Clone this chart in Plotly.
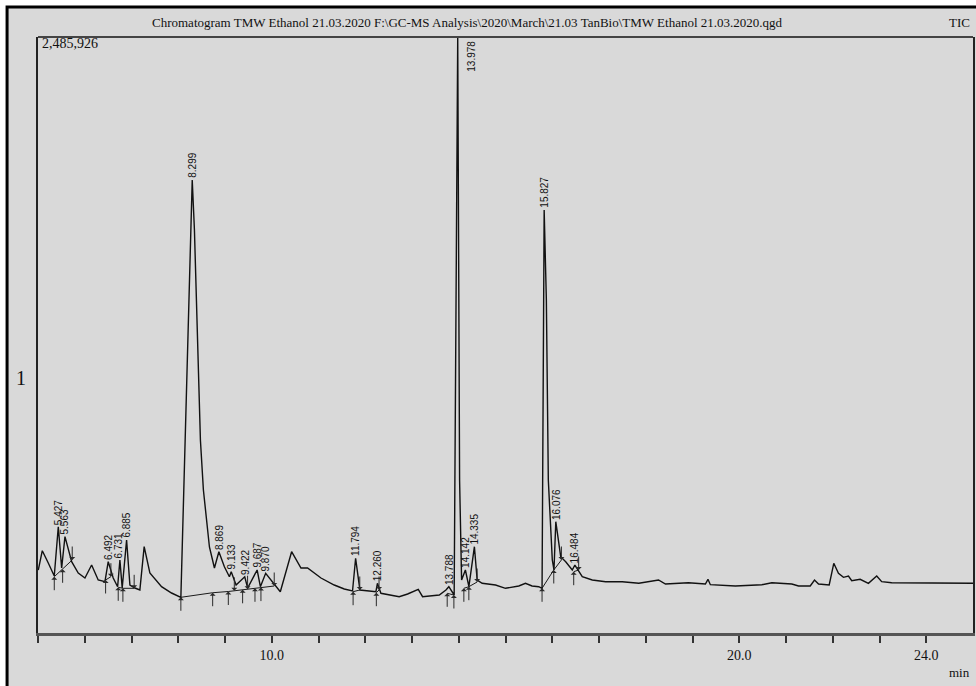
import numpy as np
import plotly.graph_objects as go

# ---------------- data ----------------
y_full_scale = 2485926

trace_t = [5.006, 5.092, 5.220, 5.348, 5.434, 5.506, 5.577, 5.720, 5.861, 6.004, 6.147, 6.288,
           6.432, 6.502, 6.609, 6.703, 6.752, 6.801, 6.895, 6.966, 7.073, 7.179, 7.271, 7.393,
           7.643, 7.857, 8.056, 8.120, 8.205, 8.299, 8.346, 8.389, 8.432, 8.474, 8.538, 8.603,
           8.667, 8.774, 8.869, 8.987, 9.094, 9.133, 9.237, 9.422, 9.485, 9.687, 9.757, 9.870,
           10.019, 10.183, 10.425, 10.625, 10.766, 11.053, 11.337, 11.551, 11.728, 11.794, 11.886,
           12.228, 12.260, 12.335, 12.726, 12.906, 13.134, 13.226, 13.583, 13.726, 13.788, 13.902,
           13.978, 14.018, 14.061, 14.142, 14.217, 14.335, 14.394, 14.501, 14.787, 15.000, 15.284,
           15.427, 15.568, 15.711, 15.782, 15.827, 15.874, 15.916, 16.001, 16.037, 16.076, 16.181,
           16.288, 16.428, 16.484, 16.642, 16.856, 17.142, 17.496, 17.852, 18.273, 18.422, 18.913,
           19.276, 19.331, 19.382, 19.916, 20.484, 20.698, 21.125, 21.268, 21.518, 21.610, 21.696,
           21.924, 22.022, 22.122, 22.229, 22.336, 22.406, 22.586, 22.763, 22.940, 23.047, 23.261,
           25.0]

trace_i = [262800, 343300, 292000, 237700, 443400, 271100, 401700, 297400, 250300, 229400, 283600, 221100,
           214000, 297400, 229400, 193100, 304500, 187700, 387900, 200200, 187700, 179400, 360000, 250300,
           193100, 166800, 148900, 638200, 1263800, 1889500, 1681000, 1389000, 1055000, 805000, 596500, 471300,
           358700, 271100, 339100, 276500, 234800, 255700, 200200, 234800, 187700, 262800, 193100, 249000,
           214000, 172300, 339100, 271100, 271100, 229400, 200200, 183500, 175200, 311600, 179400,
           172300, 207300, 165600, 151400, 162700, 182300, 151400, 158500, 179400, 193100, 158500,
           2485926, 638200, 221100, 262800, 193100, 360000, 221100, 207300, 200200, 186400, 196000,
           207300, 196000, 193100, 186400, 1764300, 1389000, 638200, 304500, 262800, 464200, 318200,
           297400, 262800, 283600, 234800, 221100, 214000, 214000, 207300, 221100, 204400, 209800,
           204400, 224000, 201500, 196000, 201500, 209800, 204400, 196000, 196000, 221100, 204400,
           200200, 290700, 249000, 232300, 237700, 218100, 224000, 207300, 237700, 214000, 209800,
           207300]

peak_labels = ["5.427", "5.563", "6.492", "6.731", "6.885", "8.299", "8.869", "9.133", "9.422",
               "9.687", "9.870", "11.794", "12.260", "13.788", "13.978", "14.142", "14.335",
               "15.827", "16.076", "16.484"]

# integration boundaries: time, baseline intensity, arrow direction (1 = up, -1 = down), baseline group
bound_t = [5.348, 5.527, 5.732, 6.446, 6.559, 6.716, 6.816, 7.057,
           8.056, 8.736, 9.071, 9.199, 9.377, 9.483, 9.641, 9.769, 10.053,
           11.740, 11.883, 12.237, 12.295, 13.753, 13.896, 14.109, 14.216, 14.393,
           15.782, 16.032, 16.196, 16.459, 16.565]
bound_i = [234800, 265700, 304500, 221100, 234800, 190600, 186400, 186400,
           148900, 168000, 173100, 176000, 180200, 182700, 186400, 189400, 196000,
           172300, 179400, 168100, 179400, 165600, 158500, 186400, 193100, 212700,
           186400, 262800, 304500, 255700, 262800]
bound_dir = [1, 1, -1, 1, -1, 1, 1, -1,
             1, 1, 1, -1, 1, -1, 1, 1, -1,
             1, -1, 1, -1, 1, 1, 1, 1, -1,
             1, 1, -1, 1, -1]
bound_group = [0, 0, 0, 1, 1, 2, 2, 2,
               3, 3, 3, 3, 3, 3, 3, 3, 3,
               4, 4, 5, 5, 6, 6, 7, 7, 7,
               8, 8, 8, 9, 9]

x_tick_vals = list(range(5, 25))
x_tick_labels = {10: "10.0", 20: "20.0", 24: "24.0"}

title_text = ("Chromatogram TMW Ethanol 21.03.2020 F:\\GC-MS Analysis\\2020\\March\\21.03 "
              "TanBio\\TMW Ethanol 21.03.2020.qgd")

# ---------------- layout constants ----------------
W, H = 976, 686
L, R, T, B = 38, 1, 37, 53
PW, PH = W - L - R, H - T - B


def px_x(x):
    return (x - L) / PW


def px_y(y):
    return (H - B - y) / PH


BG = "#d9d9d9"
SERIF = "Liberation Serif"
SANS = "Liberation Sans"

fig = go.Figure()

# baseline segments
bx, by = [], []
for g in sorted(set(bound_group)):
    idx = [k for k, gg in enumerate(bound_group) if gg == g]
    bx += [bound_t[k] for k in idx] + [None]
    by += [bound_i[k] for k in idx] + [None]
fig.add_trace(go.Scatter(x=bx, y=by, mode="lines", line=dict(color="#1a1a1a", width=1),
                         hoverinfo="skip", showlegend=False))

# chromatogram
fig.add_trace(go.Scatter(x=trace_t, y=trace_i, mode="lines",
                         line=dict(color="#111111", width=1.4), showlegend=False))

annotations = []

# integration arrows
for t, v, d in zip(bound_t, bound_i, bound_dir):
    annotations.append(dict(x=t, y=v, xref="x", yref="y", text="", showarrow=True,
                            ax=0, ay=15 * d, arrowhead=1, arrowsize=1.0, arrowwidth=1,
                            arrowcolor="#2a2a2a", standoff=0))

# peak labels
tt = np.array(trace_t)
ii = np.array(trace_i)
for lab in peak_labels:
    rt = float(lab)
    m = (tt >= rt - 0.05) & (tt <= rt + 0.05)
    apex = ii[m].max()
    if apex >= 0.97 * y_full_scale:
        annotations.append(dict(x=rt, y=apex, xref="x", yref="y", text=lab, showarrow=False,
                                textangle=-90, xanchor="left", yanchor="top", xshift=6, yshift=-2,
                                font=dict(family=SANS, size=10, color="#111")))
    else:
        annotations.append(dict(x=rt, y=apex, xref="x", yref="y", text=lab, showarrow=False,
                                textangle=-90, xanchor="center", yanchor="bottom", yshift=0,
                                font=dict(family=SANS, size=10, color="#111")))

# texts
annotations += [
    dict(x=px_x(468), y=px_y(22), xref="paper", yref="paper", text=title_text, showarrow=False,
         xanchor="center", yanchor="middle", font=dict(family=SERIF, size=13, color="#111")),
    dict(x=px_x(974), y=px_y(22), xref="paper", yref="paper", text="TIC", showarrow=False,
         xanchor="right", yanchor="middle", font=dict(family=SERIF, size=13, color="#111")),
    dict(x=px_x(40), y=px_y(43), xref="paper", yref="paper", text=f"{y_full_scale:,}",
         showarrow=False, xanchor="left", yanchor="middle",
         font=dict(family=SERIF, size=14, color="#111")),
    dict(x=px_x(21), y=px_y(378), xref="paper", yref="paper", text="1", showarrow=False,
         xanchor="center", yanchor="middle", font=dict(family=SERIF, size=20, color="#111")),
    dict(x=px_x(974), y=px_y(673), xref="paper", yref="paper", text="min", showarrow=False,
         xanchor="right", yanchor="middle", font=dict(family=SERIF, size=13, color="#111")),
]

shapes = [
    # grey panel with black outer frame (left/top visible)
    dict(type="rect", xref="paper", yref="paper", x0=px_x(7), y0=px_y(H + 10), x1=px_x(W + 10),
         y1=px_y(7), fillcolor=BG, line=dict(color="#000", width=3), layer="below"),
    # top border of plot area
    dict(type="line", xref="paper", yref="paper", x0=0, x1=1, y0=1, y1=1,
         line=dict(color="#444", width=2)),
]

fig.update_layout(
    width=W, height=H,
    margin=dict(l=L, r=R, t=T, b=B),
    paper_bgcolor="white",
    plot_bgcolor=BG,
    showlegend=False,
    annotations=annotations,
    shapes=shapes,
    xaxis=dict(range=[5.0, 25.0], showgrid=False, zeroline=False, showline=True,
               linecolor="#555", linewidth=3, ticks="outside", ticklen=7, tickwidth=1.5,
               tickcolor="#333", tickvals=x_tick_vals,
               ticktext=[x_tick_labels.get(v, "") for v in x_tick_vals],
               tickfont=dict(family=SERIF, size=14, color="#111")),
    yaxis=dict(range=[0, y_full_scale], showgrid=False, zeroline=False, showline=True,
               linecolor="#222", linewidth=1.5, mirror=True, showticklabels=False, ticks=""),
)

fig.write_html("out.html", config={"displayModeBar": False},
               post_script="document.body.style.margin='0px';document.body.style.overflow='hidden';")
